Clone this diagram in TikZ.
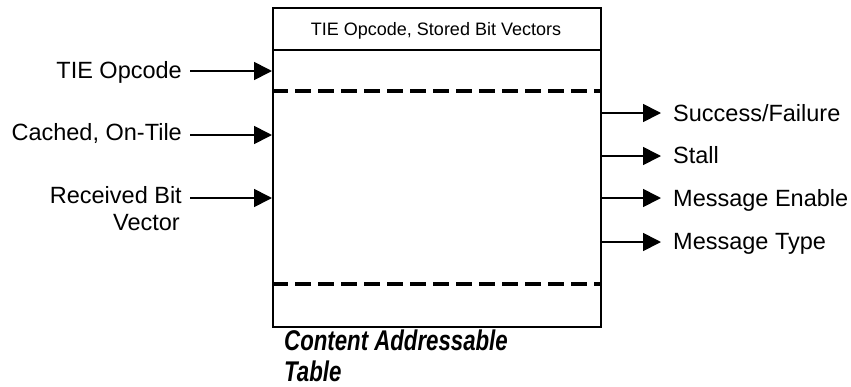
\documentclass[tikz,border=0pt]{standalone}
\usepackage{fontspec}
\setmainfont{Liberation Sans}
\newfontfamily\capfont{Liberation Sans}[FakeStretch=0.78]
\usetikzlibrary{arrows.meta}

\begin{document}
\begin{tikzpicture}[x=1pt,y=-1pt,
  lbl/.style={font=\fontsize{23.5}{27}\selectfont, inner sep=0pt},
  hdr/.style={font=\fontsize{18}{20}\selectfont, inner sep=0pt},
  captext/.style={font=\capfont\bfseries\itshape\fontsize{28.5}{33}\selectfont, inner sep=0pt},
  sig/.style={line width=1.7pt, -{Triangle[length=18pt,width=18pt]}},
  sep/.style={line width=3.6pt, dash pattern=on 16pt off 7pt},
  frame/.style={line width=1.6pt},
]
\useasboundingbox (0,0) rectangle (851,386);

% the table body
\node[frame, draw, minimum width=328pt, minimum height=319pt, anchor=north west, inner sep=0pt]
  (cam) at (272,7) {};
\coordinate (hl) at (272,50);
\coordinate (hr) at (600,50);
\draw[frame] (hl) -- (hr);
\node[hdr, anchor=base] (title) at (436,35) {TIE Opcode, Stored Bit Vectors};

% dashed separators
\coordinate (d1l) at (272,91);
\coordinate (d1r) at (600,91);
\coordinate (d2l) at (272,284);
\coordinate (d2r) at (600,284);
\draw[sep] (d1l) -- (d1r);
\draw[sep] (d2l) -- (d2r);

% inputs
\node[lbl, anchor=base east] (in1) at (182,78) {TIE Opcode};
\node[lbl, anchor=base east] (in2) at (182,140) {Cached, On-Tile};
\node[lbl, anchor=base east] (in3) at (182,203) {Received Bit};
\node[lbl, anchor=base east] (in3b) at (180,230) {Vector};
\coordinate (a1s) at (190,71);  \coordinate (a1e) at (272,71);
\coordinate (a2s) at (190,135); \coordinate (a2e) at (272,135);
\coordinate (a3s) at (190,198); \coordinate (a3e) at (272,198);
\draw[sig] (a1s) -- (a1e);
\draw[sig] (a2s) -- (a2e);
\draw[sig] (a3s) -- (a3e);

% outputs
\coordinate (b1s) at (600,113); \coordinate (b1e) at (661,113);
\coordinate (b2s) at (600,156); \coordinate (b2e) at (661,156);
\coordinate (b3s) at (600,198); \coordinate (b3e) at (661,198);
\coordinate (b4s) at (600,242); \coordinate (b4e) at (661,242);
\draw[sig] (b1s) -- (b1e);
\draw[sig] (b2s) -- (b2e);
\draw[sig] (b3s) -- (b3e);
\draw[sig] (b4s) -- (b4e);
\node[lbl, anchor=base west] (out1) at (673,121) {Success/Failure};
\node[lbl, anchor=base west] (out2) at (673,163) {Stall};
\node[lbl, anchor=base west] (out3) at (673,206) {Message Enable};
\node[lbl, anchor=base west] (out4) at (673,249) {Message Type};

% caption
\node[captext, anchor=base west] (c1) at (284,350) {Content Addressable};
\node[captext, anchor=base west] (c2) at (284,381) {Table};
\end{tikzpicture}
\end{document}
